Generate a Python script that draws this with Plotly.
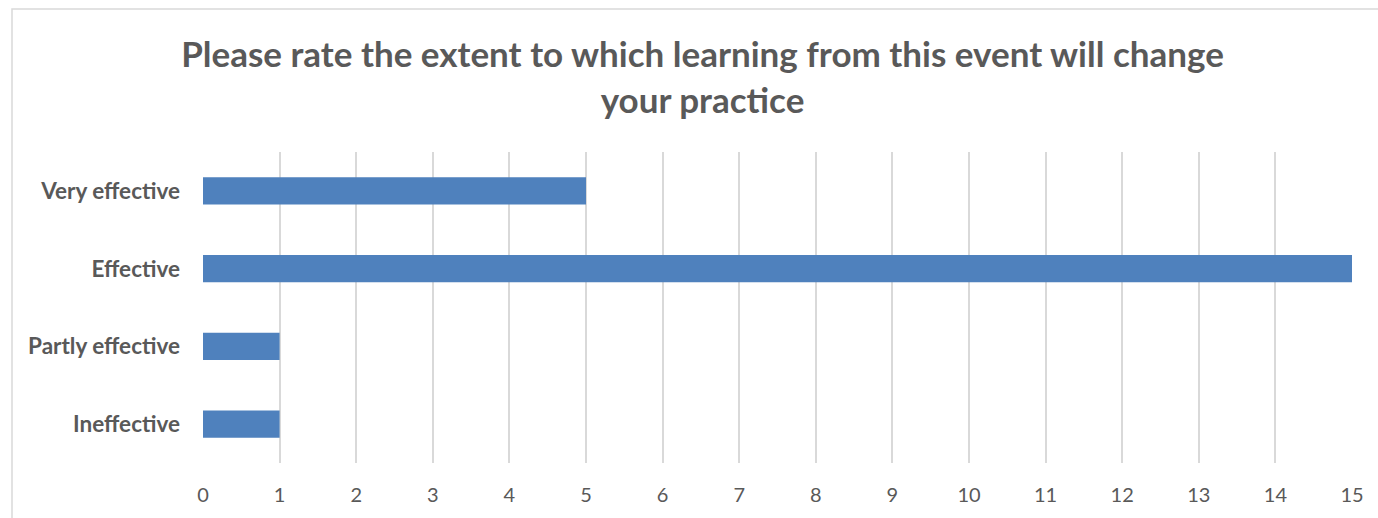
import plotly.graph_objects as go

categories = ["Ineffective", "Partly effective", "Effective", "Very effective"]
values = [1, 1, 15, 5]
x_ticks = list(range(0, 16))

W, H = 1378, 518
L, R, T, B = 203, 26, 152, 55
pw, ph = W - L - R, H - T - B

fig = go.Figure(go.Bar(
    x=values, y=categories, orientation="h",
    marker=dict(color="#4F81BD", line=dict(width=0)),
))

fig.update_layout(
    width=W, height=H,
    margin=dict(l=L, r=R, t=T, b=B),
    paper_bgcolor="white", plot_bgcolor="white",
    bargap=0.65,
    showlegend=False,
    font=dict(family="Lato", color="#595959"),
    title=dict(
        text="<b>Please rate the extent to which learning from this event will change<br>your practice</b>",
        x=(702.5 - L) / pw, xref="paper", xanchor="center",
        y=1 - 67 / H, yanchor="middle",
        font=dict(size=35, color="#595959", family="Lato"),
    ),
    xaxis=dict(
        range=[0, 15], tickvals=x_ticks, showgrid=True,
        gridcolor="#D9D9D9", gridwidth=1.5, zeroline=False,
        showline=False, ticks="", tickfont=dict(size=20, color="#595959"),
        ticklabelstandoff=18,
    ),
    yaxis=dict(
        showgrid=False, zeroline=False, showline=False, ticks="",
        tickfont=dict(size=22.5, color="#595959"),
        ticklabelstandoff=22,
        tickprefix="<b>", ticksuffix="</b>",
    ),
    shapes=[dict(
        type="rect", xref="paper", yref="paper",
        x0=(12 - L) / pw, x1=(W + 20 - L) / pw,
        y0=-(B + 20) / ph, y1=(H - 9 - B) / ph,
        line=dict(color="#D9D9D9", width=1.5), fillcolor="rgba(0,0,0,0)",
        layer="below",
    )],
)

fig.write_html(
    "out.html",
    config={"displayModeBar": False},
    post_script="document.body.style.margin='0';document.body.style.overflow='hidden';",
)
